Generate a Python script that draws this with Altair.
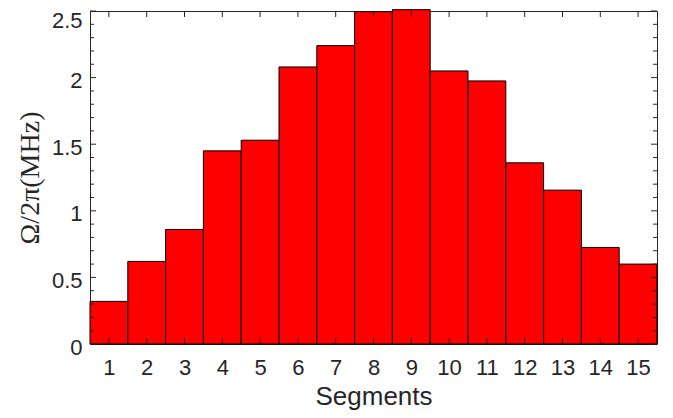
import altair as alt
import pandas as pd

# ---- data ----
segments = list(range(1, 16))
omega = [0.32, 0.62, 0.86, 1.45, 1.53, 2.08, 2.24, 2.495, 2.51, 2.05, 1.975, 1.36, 1.155, 0.725, 0.6]
y_major = [0, 0.5, 1, 1.5, 2, 2.5]
y_minor = [0.1, 0.2, 0.3, 0.4, 0.6, 0.7, 0.8, 0.9, 1.1, 1.2, 1.3, 1.4,
           1.6, 1.7, 1.8, 1.9, 2.1, 2.2, 2.3, 2.4]
x_ticks = segments

W, H = 567, 333
AX = "#262626"
SANS = "Liberation Sans"

df = pd.DataFrame({"seg": segments, "omega": omega})
df["x0"] = df["seg"] - 0.5
df["x1"] = df["seg"] + 0.5

xscale = alt.Scale(domain=[0.5, 15.5], nice=False, zero=False)
yscale = alt.Scale(domain=[0, 2.5], nice=False)

xaxis = alt.Axis(values=x_ticks, format="d", title="Segments",
                 labelFont=SANS, labelFontSize=22, labelColor=AX,
                 labelPadding=13, ticks=False, tickSize=0, domain=False,
                 grid=False, labelFlush=False, labelOverlap=False,
                 titleFont=SANS, titleFontSize=26, titleFontWeight="normal",
                 titleColor=AX, titleY=60, titleBaseline="alphabetic")
yaxis = alt.Axis(values=y_major, format="~g", title="Ω/2π(MHz)",
                 labelFont=SANS, labelFontSize=22, labelColor=AX,
                 labelPadding=8,
                 labelOffset=alt.expr("datum.value >= 2.5 ? 9 : 3"),
                 ticks=False, tickSize=0,
                 domain=False, grid=False, labelFlush=False, labelOverlap=False,
                 titleFont="Liberation Serif", titleFontSize=28,
                 titleFontWeight="normal", titleColor=AX,
                 titleX=-60, titleY=H / 2, titleAngle=270,
                 titleAlign="center", titleBaseline="middle")

bars = alt.Chart(df).mark_rect(color="#ff0000", stroke="black", strokeWidth=1).encode(
    x=alt.X("x0:Q", scale=xscale, axis=xaxis, title="Segments"),
    x2="x1",
    y=alt.Y("omega:Q", scale=yscale, axis=yaxis, title="Ω/2π(MHz)"),
    y2=alt.datum(0),
)

ymaj = pd.DataFrame({"v": y_major})
ymin = pd.DataFrame({"v": y_minor})
xt = pd.DataFrame({"v": x_ticks})

def yrule(data, x1, x2):
    return alt.Chart(data).mark_rule(color=AX, strokeWidth=1).encode(
        y=alt.Y("v:Q", scale=yscale, axis=yaxis, title="Ω/2π(MHz)"),
        x=alt.value(x1), x2=alt.value(x2))

def xrule(y1, y2):
    return alt.Chart(xt).mark_rule(color=AX, strokeWidth=1).encode(
        x=alt.X("v:Q", scale=xscale, axis=xaxis, title="Segments"),
        y=alt.value(y1), y2=alt.value(y2))

layers = [
    bars,
    yrule(ymaj, 0, 6), yrule(ymaj, W - 6, W),
    yrule(ymin, 0, 4), yrule(ymin, W - 4, W),
    xrule(0, 6), xrule(H, H - 6),
]

chart = alt.layer(*layers).properties(
    width=W, height=H,
    autosize="none",
    padding={"left": 82, "top": 3, "right": 6, "bottom": 66},
).configure_view(stroke=AX, strokeWidth=1)

chart.save("out.html", embed_options={"renderer": "svg", "actions": False})
